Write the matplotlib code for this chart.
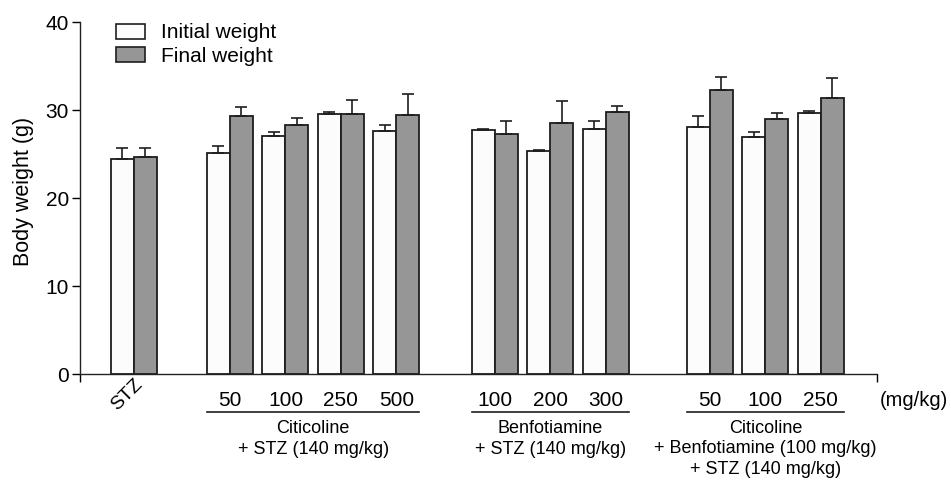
import numpy as np
import matplotlib
matplotlib.use("Agg")
import matplotlib.pyplot as plt
from matplotlib.patches import Patch

plt.rcParams["font.family"] = ["Liberation Sans", "DejaVu Sans"]

# ── Data ──────────────────────────────────────────────────────────────────────
positions   = [0, 1.73, 2.73, 3.73, 4.73, 6.5, 7.5, 8.5, 10.38, 11.38, 12.38]
dose_labels = ["", "50", "100", "250", "500", "100", "200", "300", "50", "100", "250"]
initial     = [24.4, 25.15, 27.05, 29.55, 27.65, 27.7, 25.4, 27.85, 28.05, 26.9, 29.65]
initial_err = [1.3, 0.8, 0.45, 0.25, 0.7, 0.1, 0.05, 0.9, 1.3, 0.6, 0.25]
final       = [24.65, 29.35, 28.35, 29.55, 29.4, 27.3, 28.5, 29.8, 32.25, 28.95, 31.4]
final_err   = [1.05, 1.05, 0.8, 1.55, 2.45, 1.5, 2.5, 0.7, 1.5, 0.7, 2.2]

groups = [
    ("Citicoline\n+ STZ (140 mg/kg)", 1, 4),
    ("Benfotiamine\n+ STZ (140 mg/kg)", 5, 7),
    ("Citicoline\n+ Benfotiamine (100 mg/kg)\n+ STZ (140 mg/kg)", 8, 10),
]

WHITE = "#fcfcfc"
GRAY  = "#969696"
EDGE  = "#1e1e1e"
W     = 0.414

fig = plt.figure(figsize=(9.51, 4.82), dpi=100)
ax = fig.add_axes([0.0841, 0.224, 0.8380, 0.730])

x = np.array(positions)
n = len(x)
err_kw = dict(ecolor=EDGE, elinewidth=1.2, capsize=4.3, capthick=1.2)
ax.bar(x - W / 2, initial, W, color=WHITE, edgecolor=EDGE, linewidth=1.3,
       yerr=[np.zeros(n), initial_err], error_kw=err_kw, zorder=2)
ax.bar(x + W / 2, final, W, color=GRAY, edgecolor=EDGE, linewidth=1.3,
       yerr=[np.zeros(n), final_err], error_kw=err_kw, zorder=2)

ax.set_xlim(-0.973, 13.39)
ax.set_ylim(0, 40)
ax.set_yticks([0, 10, 20, 30, 40])
ax.tick_params(axis="y", labelsize=15, length=6, width=1, direction="out", pad=2)
ax.set_xticks([-0.973, 13.39])
ax.set_xticklabels(["", ""])
ax.tick_params(axis="x", length=6, width=1, direction="out")
for s in ("top", "right"):
    ax.spines[s].set_visible(False)
for s in ("left", "bottom"):
    ax.spines[s].set_linewidth(1.0)
    ax.spines[s].set_color("#222222")
ax.set_ylabel("Body weight (g)", fontsize=15.5)
ax.yaxis.set_label_coords(-0.058, 0.52)

# legend
handles = [Patch(facecolor=WHITE, edgecolor=EDGE, linewidth=1.2, label="Initial weight"),
           Patch(facecolor=GRAY, edgecolor=EDGE, linewidth=1.2, label="Final weight")]
ax.legend(handles=handles, loc="upper left", bbox_to_anchor=(0.035, 1.02),
          frameon=False, fontsize=15, handlelength=1.4, handleheight=0.72,
          handletextpad=0.75, labelspacing=0.2, borderaxespad=0)

# x labels
tr = ax.get_xaxis_transform()
for xi, lab in zip(positions, dose_labels):
    if lab:
        ax.text(xi, -0.074, lab, transform=tr, ha="center", va="center", fontsize=15)
ax.text(-0.13, -0.058, "STZ", transform=tr, ha="center", va="center",
        fontsize=14, rotation=45)
ax.text(13.44, -0.074, "(mg/kg)", transform=tr, ha="left", va="center",
        fontsize=14.5, clip_on=False)

for text, i0, i1 in groups:
    x0 = positions[i0] - W
    x1 = positions[i1] + W
    ax.plot([x0, x1], [-0.107, -0.107], transform=tr, color=EDGE, lw=1.2,
            clip_on=False)
    nlines = text.count("\n") + 1
    yc = -0.156 - (nlines - 1) * 0.057 / 2
    ax.text((x0 + x1) / 2, yc, text, transform=tr, ha="center", va="center",
            fontsize=13, linespacing=1.25, multialignment="center")

fig.savefig("out.png", dpi=100)
